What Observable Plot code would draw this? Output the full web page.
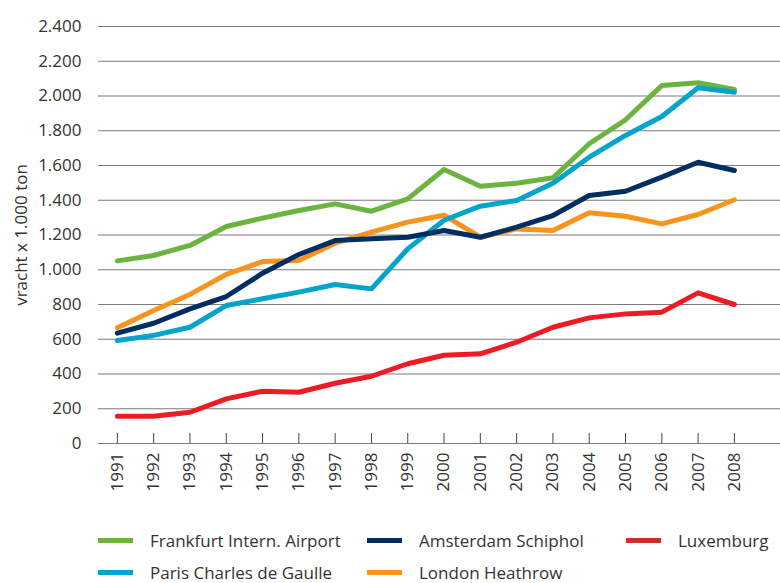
<!DOCTYPE html>
<html>
<head>
<meta charset="utf-8">
<script src="https://cdn.jsdelivr.net/npm/d3@7"></script>
<script src="https://cdn.jsdelivr.net/npm/@observablehq/plot@0.6"></script>
<style>
  body { margin: 0; background: #fff; }
  #wrap { position: relative; width: 780px; height: 583px; overflow: hidden; font-family: "Open Sans", sans-serif; color: #333; }
  .leg { position: absolute; display: flex; align-items: center; font-size: 17px; color: #333; white-space: nowrap; }
  .sw { display: inline-block; width: 35px; height: 5px; margin-right: 17px; }
</style>
</head>
<body>
<div id="wrap"></div>
<script>
const years = [1991,1992,1993,1994,1995,1996,1997,1998,1999,2000,2001,2002,2003,2004,2005,2006,2007,2008];
const yTicks = [0,200,400,600,800,1000,1200,1400,1600,1800,2000,2200,2400];

const frankfurt = [1051,1082,1140,1249,1297,1341,1379,1337,1408,1577,1481,1498,1529,1725,1863,2060,2076,2037];
const amsterdam = [635,692,775,846,980,1088,1168,1178,1187,1226,1187,1245,1312,1427,1452,1533,1619,1571];
const paris     = [593,622,669,794,833,871,915,890,1120,1285,1366,1399,1498,1648,1773,1882,2047,2022];
const london    = [666,765,858,973,1047,1053,1153,1216,1274,1314,1187,1235,1226,1328,1308,1264,1318,1403];
const luxemburg = [157,157,180,257,301,295,347,387,459,508,516,583,669,723,746,756,867,800];

const seriesNames = ["Frankfurt Intern. Airport","Amsterdam Schiphol","Luxemburg","Paris Charles de Gaulle","London Heathrow"];
const seriesColors = ["#6cb33f","#002e63","#ed1c24","#00a4cc","#f7941d"];
const legendColors = ["#6cb33f","#002e63","#c8302a","#00a4cc","#f7941d"];
const seriesValues = [frankfurt, amsterdam, luxemburg, paris, london];
const drawOrder = ["London Heathrow","Frankfurt Intern. Airport","Paris Charles de Gaulle","Amsterdam Schiphol","Luxemburg"];

const rows = [];
drawOrder.forEach(name => {
  const i = seriesNames.indexOf(name);
  years.forEach((yr, j) => rows.push({series: name, year: yr, value: seriesValues[i][j]}));
});

const nl = d3.formatLocale({decimal: ",", thousands: ".", grouping: [3], currency: ["", ""]});
const fmt = nl.format(",");

const chart = Plot.plot({
  width: 780,
  height: 520,
  marginLeft: 98,
  marginRight: 0,
  marginTop: 26,
  marginBottom: 77,
  style: {fontFamily: "Open Sans, sans-serif", fontSize: "17px", color: "#333", background: "#fff"},
  x: {type: "linear", domain: [1990.48, 2009.27]},
  y: {domain: [0, 2400]},
  color: {domain: seriesNames, range: seriesColors},
  marks: [
    Plot.ruleY(yTicks, {stroke: "#7a7a7a", strokeWidth: 1.2}),
    Plot.ruleX(years, {y1: 0, y2: 0, insetTop: -10, stroke: "#444", strokeWidth: 1}),
    Plot.axisY(yTicks, {tickSize: 0, tickPadding: 17, tickFormat: fmt, fill: "#333",
      label: "vracht x 1.000 ton", labelAnchor: "center", labelArrow: "none", labelOffset: 84}),
    Plot.axisX(years, {tickSize: 0, tickPadding: 9, tickRotate: -90, tickFormat: d => String(d), fill: "#333", label: null}),
    Plot.line(rows, {x: "year", y: "value", z: "series", stroke: "series", strokeWidth: 5, strokeLinejoin: "round", strokeLinecap: "round"})
  ]
});

const wrap = document.getElementById("wrap");
wrap.appendChild(chart);

const legendPos = [
  {left: 98, top: 540}, {left: 367, top: 540}, {left: 626, top: 540},
  {left: 98, top: 572}, {left: 367, top: 572}
];
seriesNames.forEach((name, i) => {
  const d = document.createElement("div");
  d.className = "leg";
  d.style.left = legendPos[i].left + "px";
  d.style.top = (legendPos[i].top - 11) + "px";
  d.style.height = "22px";
  const sw = document.createElement("span");
  sw.className = "sw";
  sw.style.background = legendColors[i];
  d.appendChild(sw);
  const t = document.createElement("span");
  t.textContent = name;
  d.appendChild(t);
  wrap.appendChild(d);
});
</script>
</body>
</html>
